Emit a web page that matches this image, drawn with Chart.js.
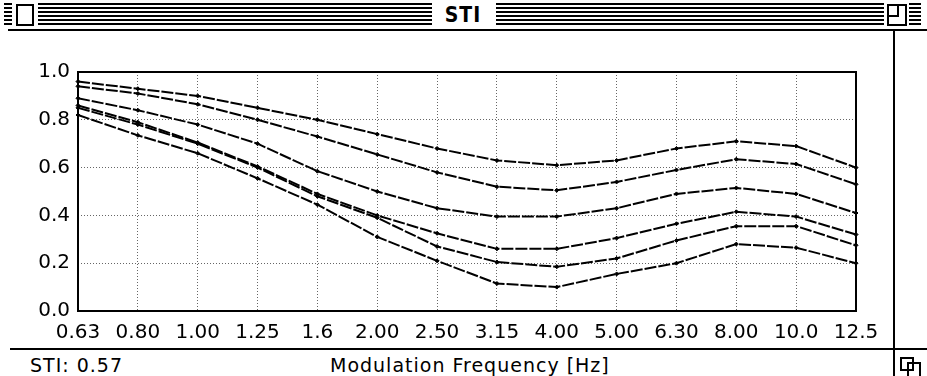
<!DOCTYPE html>
<html>
<head>
<meta charset="utf-8">
<script src="https://cdn.jsdelivr.net/npm/chart.js@4.4.0/dist/chart.umd.min.js"></script>
<style>
    html, body { margin: 0; padding: 0; background: #fff; }
    body { width: 927px; height: 376px; position: relative; overflow: hidden; font-family: "DejaVu Sans", sans-serif; color: #000; }
    .stripes { position: absolute; height: 22px; top: 3px;
        background: repeating-linear-gradient(to bottom, #000 0 2px, #fff 2px 4px); }
    .title { position: absolute; left: 432px; top: 2px; width: 62px; height: 26px; background: #fff;
        font: bold 21px "DejaVu Sans Condensed", sans-serif; text-align: center; line-height: 26px; letter-spacing: 1px; }
    .box { position: absolute; border: 2px solid #000; background: #fff; }
    .hline { position: absolute; height: 2px; background: #000; }
    .vline { position: absolute; width: 2px; background: #000; }
    .status { position: absolute; top: 354px; font-size: 19px; letter-spacing: 1px; }
    #chartWrap { position: absolute; left: 0; top: 0; width: 890px; height: 347px; }
</style>
</head>
<body>
    <!-- window title bar -->
    <div class="stripes" style="left:4px;width:8px"></div>
    <div class="box" style="left:16px;top:4px;width:14px;height:18px"></div>
    <div class="stripes" style="left:38px;width:398px"></div>
    <div class="title">STI</div>
    <div class="stripes" style="left:496px;width:388px"></div>
    <div class="box" style="left:887px;top:4px;width:16px;height:18px"></div>
    <div class="box" style="left:887px;top:4px;width:8px;height:9px"></div>
    <div class="stripes" style="left:909px;width:12px"></div>
    <div class="hline" style="left:8px;top:29px;width:919px"></div>
    <div class="vline" style="left:893px;top:30px;height:346px"></div>
    <div class="hline" style="left:10px;top:348px;width:917px"></div>

    <div id="chartWrap"><canvas id="stiChart"></canvas></div>

    <div class="status" style="left:30px">STI: 0.57</div>
    <div class="status" style="left:330px">Modulation Frequency [Hz]</div>
    <div class="box" style="left:900px;top:357px;width:10px;height:10px"></div>
    <div class="box" style="left:907px;top:362px;width:10px;height:12px;background:transparent"></div>

<script>
// Modulation frequencies (Hz)
const frequencies = ['0.63', '0.80', '1.00', '1.25', '1.6', '2.00', '2.50', '3.15', '4.00', '5.00', '6.30', '8.00', '10.0', '12.5'];

// modulation transfer curves, top to bottom
const mtf1 = [0.96, 0.93, 0.90, 0.85, 0.80, 0.74, 0.68, 0.63, 0.61, 0.63, 0.68, 0.71, 0.69, 0.60];
const mtf2 = [0.94, 0.91, 0.865, 0.80, 0.73, 0.655, 0.58, 0.52, 0.505, 0.54, 0.59, 0.635, 0.615, 0.53];
const mtf3 = [0.89, 0.84, 0.78, 0.70, 0.585, 0.50, 0.43, 0.395, 0.395, 0.43, 0.49, 0.515, 0.49, 0.41];
const mtf4 = [0.86, 0.79, 0.705, 0.605, 0.49, 0.40, 0.325, 0.26, 0.26, 0.305, 0.365, 0.415, 0.395, 0.32];
const mtf5 = [0.85, 0.78, 0.70, 0.60, 0.48, 0.39, 0.27, 0.205, 0.185, 0.22, 0.295, 0.355, 0.355, 0.275];
const mtf6 = [0.82, 0.735, 0.66, 0.555, 0.445, 0.31, 0.21, 0.115, 0.10, 0.155, 0.20, 0.28, 0.265, 0.20];

const yTicks = [0, 0.2, 0.4, 0.6, 0.8, 1.0];

const series = [mtf1, mtf2, mtf3, mtf4, mtf5, mtf6];

// black frame round the plot area
const frame = {
    id: 'frame',
    afterDraw(chart) {
        const { ctx, chartArea: a } = chart;
        ctx.save();
        ctx.strokeStyle = '#000';
        ctx.lineWidth = 2;
        ctx.strokeRect(a.left, a.top, a.right - a.left, a.bottom - a.top);
        ctx.restore();
    }
};

const ctx = document.getElementById('stiChart').getContext('2d');
new Chart(ctx, {
    type: 'line',
    data: {
        labels: frequencies,
        datasets: series.map((vals, i) => ({
            label: `MTF ${i + 1}`,
            data: vals,
            borderColor: '#000',
            backgroundColor: '#000',
            borderWidth: 2,
            borderDash: [12, 2],
            tension: 0,
            pointStyle: 'rectRot',
            pointRadius: 2,
            pointBorderWidth: 1
        }))
    },
    options: {
        responsive: true,
        maintainAspectRatio: false,
        animation: false,
        layout: { padding: { top: 72, right: 34, left: 0, bottom: 0 } },
        plugins: {
            legend: { display: false },
            tooltip: { enabled: false }
        },
        scales: {
            x: {
                offset: false,
                grid: { color: '#666', drawTicks: false },
                border: { display: false, dash: [1, 2] },
                ticks: { color: '#000', padding: 10, maxRotation: 0, autoSkip: false,
                    font: { family: 'DejaVu Sans', size: 20 } },
                afterFit: (s) => { s.height = 36; }
            },
            y: {
                min: 0, max: 1,
                afterBuildTicks: (s) => { s.ticks = yTicks.map(v => ({ value: v })); },
                grid: { color: '#666', drawTicks: false },
                border: { display: false, dash: [1, 2] },
                ticks: { color: '#000', padding: 8,
                    font: { family: 'DejaVu Sans', size: 20 },
                    callback: (v) => v.toFixed(1) },
                afterFit: (s) => { s.width = 78; }
            }
        }
    },
    plugins: [frame]
});
</script>
</body>
</html>
